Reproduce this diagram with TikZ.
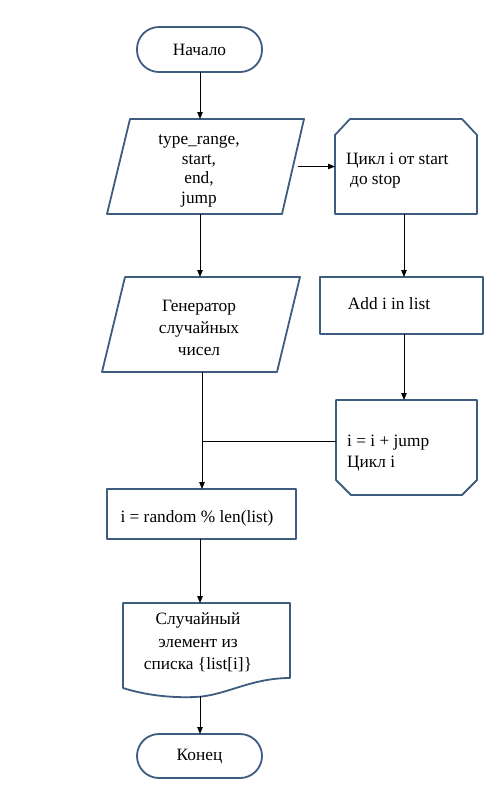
\documentclass[tikz,border=0pt]{standalone}
\usepackage{fontspec}
\setmainfont{Liberation Serif}
\usetikzlibrary{arrows.meta}
\definecolor{shapeblue}{RGB}{62,92,128}
\begin{document}
\begin{tikzpicture}[x=1pt,y=-1pt,
  outl/.style={draw=shapeblue,line width=1.8pt,line join=round},
  anc/.style={inner sep=0pt,outer sep=0pt},
  txt/.style={font=\fontsize{17.3}{20.5}\selectfont,inner sep=0pt},
  conn/.style={draw=black,line width=0.9pt},
  arr/.style={conn,-{Triangle[length=7pt,width=5.5pt]}}
]
\useasboundingbox (0,0) rectangle (492,804);
\fill[white] (0,0) rectangle (492,804);

% Start terminator
\node[outl,anc,rounded corners=22pt,minimum width=125pt,minimum height=45pt,txt] (start) at (199.5,49.5) {Начало};

% Input parallelogram
\node[anc,minimum width=197pt,minimum height=95pt] (p1) at (205.5,166.5) {};
\draw[outl] ([xshift=23pt]p1.north west) -- (p1.north east) -- ([xshift=-22pt]p1.south east) -- (p1.south west) -- cycle;
\node[txt,align=center,font=\fontsize{17.3}{19.5}\selectfont] (p1t) at (199,171) {type\_range,\\start,\\end,\\jump};

% Loop start
\node[anc,minimum width=142pt,minimum height=95pt] (l1) at (406,166.5) {};
\draw[outl] ([yshift=-16pt]l1.north west) -- ([xshift=15pt]l1.north west) -- ([xshift=-15pt]l1.north east) -- ([yshift=-16pt]l1.north east) -- (l1.south east) -- (l1.south west) -- cycle;
\node[txt,align=left,anchor=west] (l1t) at (346,170.5) {Цикл i от start\\\hspace{4pt}до stop};

% Add box
\node[outl,anc,minimum width=163pt,minimum height=57pt] (add) at (401.5,305.5) {};
\node[txt] (addt) at (389,304) {Add i in list};

% Loop end
\node[anc,minimum width=141pt,minimum height=95pt] (l2) at (406.5,447.5) {};
\draw[outl] (l2.north west) -- (l2.north east) -- ([yshift=15pt]l2.south east) -- ([xshift=-15pt]l2.south east) -- ([xshift=15pt]l2.south west) -- ([yshift=15pt]l2.south west) -- cycle;
\node[txt,align=left,anchor=west] (l2t) at (347,453) {i = i + jump\\Цикл i};

% Generator parallelogram
\node[anc,minimum width=198pt,minimum height=95pt] (p2) at (201,324.5) {};
\draw[outl] ([xshift=23pt]p2.north west) -- (p2.north east) -- ([xshift=-23pt]p2.south east) -- (p2.south west) -- cycle;
\node[txt,align=center,font=\fontsize{17.3}{22}\selectfont] (p2t) at (199,327.5) {Генератор\\случайных\\чисел};

% Random index box
\node[outl,anc,minimum width=189pt,minimum height=50pt] (rnd) at (201.5,514) {};
\node[txt] (rndt) at (197,518) {i = random \% len(list)};

% Document shape
\node[anc,minimum width=167pt,minimum height=85pt] (doc) at (206.5,645.5) {};
\draw[outl] (doc.south west) -- (doc.north west) -- (doc.north east) -- ([yshift=10pt]doc.south east)
  .. controls (250,678) and (225,696) .. (195,697)
  .. controls (170,698) and (145,695) .. (doc.south west) -- cycle;
\node[txt,align=center,font=\fontsize{17.3}{22.5}\selectfont] (doct) at (198,642.5) {Случайный\\элемент из\\списка \{list[i]\}};
\coordinate (docb) at (200,696);

% End terminator
\node[outl,anc,rounded corners=22pt,minimum width=125pt,minimum height=44pt,txt] (end) at (199.5,756) {Конец};

% Connectors
\draw[arr] ([xshift=0.5pt]start.south) -- ([xshift=0.5pt]start.south |- p1.north);
\draw[arr] ([xshift=-6pt]p1.east) -- (l1.west);
\draw[arr] ([xshift=0.5pt]start.south |- p1.south) -- ([xshift=0.5pt]start.south |- p2.north);
\draw[arr] ([xshift=-2pt]l1.south) -- ([xshift=-2pt]l1.south |- add.north);
\draw[arr] ([xshift=-2pt]l1.south |- add.south) -- ([xshift=-2pt]l1.south |- l2.north);
\draw[conn] ([yshift=6.5pt]l2.west) -- ([yshift=6.5pt,xshift=2.5pt]l2.west -| start.south);
\draw[arr] ([xshift=2.5pt]start.south |- p2.south) -- ([xshift=2.5pt]start.south |- rnd.north);
\draw[arr] ([xshift=0.5pt]start.south |- rnd.south) -- ([xshift=0.5pt]start.south |- doc.north);
\draw[arr] (docb) -- (docb |- end.north);
\end{tikzpicture}
\end{document}
